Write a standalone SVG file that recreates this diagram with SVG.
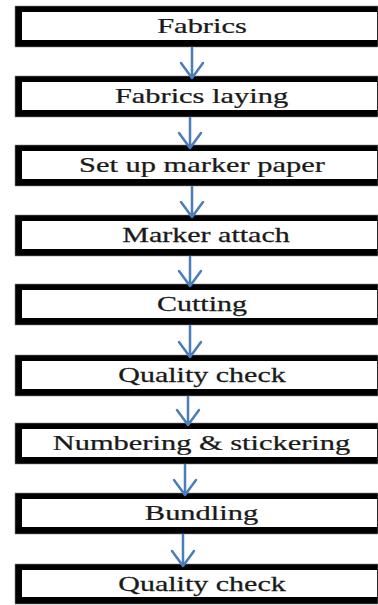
<svg xmlns="http://www.w3.org/2000/svg" width="378" height="605" viewBox="0 0 378 605">
<style>
.outer{fill:#000;stroke:#888;stroke-width:0.6}
.inner{fill:#fff}
.lbl{font-family:"Liberation Serif","Times New Roman",serif;font-size:21px;fill:#1a1a1a;stroke:#1a1a1a;stroke-width:0.25;text-anchor:middle}
.arr{fill:none;stroke:#4a7ebb;stroke-width:2.5;stroke-linecap:round;stroke-linejoin:round}
</style>
<rect width="378" height="605" fill="#fff"/>
<g id="n1"><rect class="outer" x="15" y="6" width="363" height="41"/><rect class="inner" x="22" y="12" width="355" height="28"/><text class="lbl" transform="translate(202 33) scale(1.45 1)">Fabrics</text></g>
<g id="n2"><rect class="outer" x="15" y="76" width="363" height="41"/><rect class="inner" x="22" y="82" width="355" height="28"/><text class="lbl" transform="translate(201.5 103) scale(1.45 1)">Fabrics laying</text></g>
<g id="n3"><rect class="outer" x="15" y="145" width="363" height="41"/><rect class="inner" x="22" y="151" width="355" height="28"/><text class="lbl" transform="translate(202 172) scale(1.45 1)">Set up marker paper</text></g>
<g id="n4"><rect class="outer" x="15" y="215" width="363" height="41"/><rect class="inner" x="22" y="221" width="355" height="28"/><text class="lbl" transform="translate(206 242) scale(1.43 1)">Marker attach</text></g>
<g id="n5"><rect class="outer" x="15" y="284" width="363" height="41"/><rect class="inner" x="22" y="290" width="355" height="28"/><text class="lbl" transform="translate(202 311) scale(1.43 1)">Cutting</text></g>
<g id="n6"><rect class="outer" x="15" y="355" width="363" height="41"/><rect class="inner" x="22" y="361" width="355" height="28"/><text class="lbl" transform="translate(202 382) scale(1.43 1)">Quality check</text></g>
<g id="n7"><rect class="outer" x="15" y="423" width="363" height="41"/><rect class="inner" x="22" y="429" width="355" height="28"/><text class="lbl" transform="translate(201.5 450) scale(1.45 1)">Numbering &amp; stickering</text></g>
<g id="n8"><rect class="outer" x="15" y="493" width="363" height="41"/><rect class="inner" x="22" y="499" width="355" height="28"/><text class="lbl" transform="translate(201.5 520) scale(1.45 1)">Bundling</text></g>
<g id="n9"><rect class="outer" x="15" y="564" width="363" height="40"/><rect class="inner" x="22" y="570" width="355" height="27"/><text class="lbl" transform="translate(202 591) scale(1.43 1)">Quality check</text></g>
<g id="connectors">
<path class="arr" d="M192 48V78M181 63L192 78L203 63"/>
<path class="arr" d="M190 118V148M179 133L190 148L201 133"/>
<path class="arr" d="M192 187V217M181 202L192 217L203 202"/>
<path class="arr" d="M190 257V286M179 271L190 286L201 271"/>
<path class="arr" d="M190 326V357M179 342L190 357L201 342"/>
<path class="arr" d="M188 397V425M177 410L188 425L199 410"/>
<path class="arr" d="M185 465V495M174 480L185 495L196 480"/>
<path class="arr" d="M183 535V566M172 551L183 566L194 551"/>
</g>
</svg>
